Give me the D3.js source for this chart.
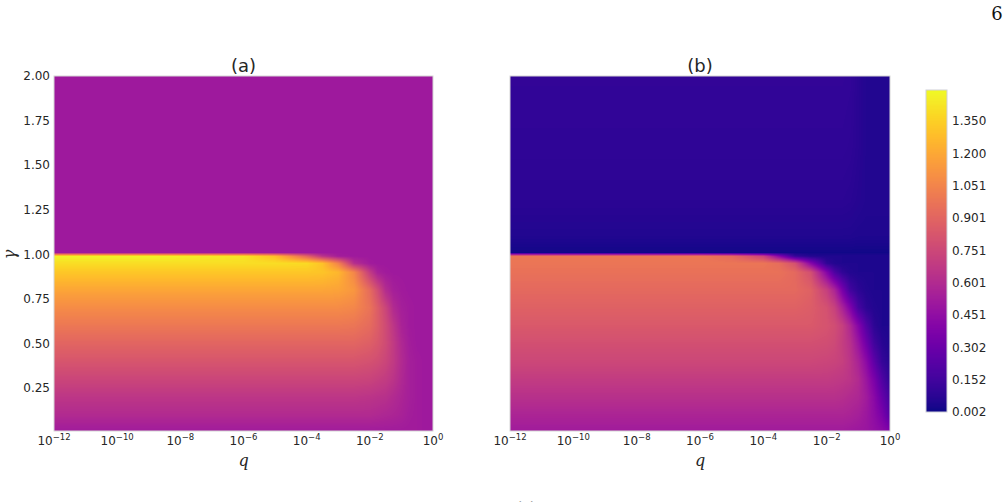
<!DOCTYPE html>
<html>
<head>
<meta charset="utf-8">
<script src="https://cdn.jsdelivr.net/npm/d3@7"></script>
<style>
  body { margin: 0; background: #fff; }
  svg { display: block; }
  text { font-family: "DejaVu Sans", sans-serif; fill: #262626; }
</style>
</head>
<body>
<svg id="chart" width="1008" height="502"></svg>
<script>
// log10(q) columns of the grid
const qExp = [-12, -9, -6, -5, -4, -3.5, -3, -2.5, -2, -1.75, -1.5, -1.25, -1, -0.75, -0.5, -0.25, 0];
// gamma rows of the grid
const gammaRows = [0.01, 0.1, 0.2, 0.3, 0.4, 0.5, 0.6, 0.7, 0.8, 0.9, 0.95, 0.99, 1.01, 1.1, 1.3, 1.6, 2.0];

// panel (a) values, one row per gamma
const valuesA = [
  [0.52, 0.52, 0.52, 0.52, 0.52, 0.52, 0.52, 0.52, 0.52, 0.52, 0.52, 0.52, 0.52, 0.52, 0.52, 0.51, 0.51],
  [0.60, 0.60, 0.60, 0.60, 0.60, 0.60, 0.60, 0.60, 0.60, 0.59, 0.58, 0.57, 0.555, 0.53, 0.52, 0.51, 0.51],
  [0.66, 0.66, 0.66, 0.66, 0.66, 0.66, 0.66, 0.66, 0.65, 0.64, 0.63, 0.60, 0.57, 0.54, 0.52, 0.51, 0.51],
  [0.74, 0.74, 0.74, 0.74, 0.74, 0.74, 0.74, 0.74, 0.73, 0.71, 0.69, 0.65, 0.59, 0.54, 0.52, 0.51, 0.51],
  [0.82, 0.82, 0.82, 0.82, 0.82, 0.82, 0.82, 0.82, 0.80, 0.78, 0.74, 0.68, 0.60, 0.54, 0.52, 0.51, 0.51],
  [0.90, 0.90, 0.90, 0.90, 0.90, 0.90, 0.90, 0.90, 0.87, 0.83, 0.77, 0.68, 0.59, 0.53, 0.51, 0.51, 0.51],
  [0.99, 0.99, 0.99, 0.99, 0.99, 0.99, 0.99, 0.98, 0.93, 0.86, 0.77, 0.66, 0.56, 0.52, 0.51, 0.51, 0.51],
  [1.08, 1.08, 1.08, 1.08, 1.08, 1.08, 1.08, 1.06, 0.97, 0.86, 0.74, 0.60, 0.54, 0.52, 0.51, 0.51, 0.51],
  [1.19, 1.19, 1.19, 1.19, 1.19, 1.19, 1.18, 1.13, 0.93, 0.78, 0.61, 0.54, 0.52, 0.51, 0.51, 0.51, 0.51],
  [1.32, 1.32, 1.32, 1.32, 1.32, 1.31, 1.26, 1.06, 0.69, 0.55, 0.52, 0.51, 0.51, 0.51, 0.51, 0.51, 0.51],
  [1.40, 1.40, 1.40, 1.40, 1.39, 1.30, 1.04, 0.62, 0.52, 0.51, 0.51, 0.51, 0.51, 0.51, 0.51, 0.51, 0.51],
  [1.48, 1.48, 1.43, 1.29, 0.90, 0.65, 0.53, 0.51, 0.51, 0.51, 0.51, 0.51, 0.51, 0.51, 0.51, 0.51, 0.51],
  [0.51, 0.51, 0.51, 0.51, 0.51, 0.51, 0.51, 0.51, 0.51, 0.51, 0.51, 0.51, 0.51, 0.51, 0.51, 0.51, 0.51],
  [0.51, 0.51, 0.51, 0.51, 0.51, 0.51, 0.51, 0.51, 0.51, 0.51, 0.51, 0.51, 0.51, 0.51, 0.51, 0.51, 0.51],
  [0.51, 0.51, 0.51, 0.51, 0.51, 0.51, 0.51, 0.51, 0.51, 0.51, 0.51, 0.51, 0.51, 0.51, 0.51, 0.51, 0.51],
  [0.51, 0.51, 0.51, 0.51, 0.51, 0.51, 0.51, 0.51, 0.51, 0.51, 0.51, 0.51, 0.51, 0.51, 0.51, 0.51, 0.51],
  [0.51, 0.51, 0.51, 0.51, 0.51, 0.51, 0.51, 0.51, 0.51, 0.51, 0.51, 0.51, 0.51, 0.51, 0.51, 0.51, 0.51]
];

// panel (b) values, one row per gamma
const valuesB = [
  [0.52, 0.52, 0.52, 0.52, 0.52, 0.52, 0.52, 0.52, 0.52, 0.52, 0.52, 0.51, 0.50, 0.49, 0.46, 0.43, 0.38],
  [0.57, 0.57, 0.57, 0.57, 0.57, 0.57, 0.57, 0.57, 0.57, 0.57, 0.57, 0.56, 0.54, 0.50, 0.44, 0.36, 0.22],
  [0.63, 0.63, 0.63, 0.63, 0.63, 0.63, 0.63, 0.63, 0.63, 0.63, 0.62, 0.60, 0.58, 0.52, 0.42, 0.28, 0.16],
  [0.69, 0.69, 0.69, 0.69, 0.69, 0.69, 0.69, 0.69, 0.69, 0.68, 0.67, 0.65, 0.60, 0.49, 0.36, 0.20, 0.09],
  [0.75, 0.75, 0.75, 0.75, 0.75, 0.75, 0.75, 0.75, 0.74, 0.73, 0.71, 0.65, 0.56, 0.43, 0.25, 0.11, 0.06],
  [0.79, 0.79, 0.79, 0.79, 0.79, 0.79, 0.79, 0.79, 0.78, 0.76, 0.70, 0.63, 0.49, 0.32, 0.15, 0.07, 0.04],
  [0.84, 0.84, 0.84, 0.84, 0.84, 0.84, 0.84, 0.84, 0.81, 0.78, 0.71, 0.58, 0.40, 0.21, 0.08, 0.04, 0.04],
  [0.88, 0.88, 0.88, 0.88, 0.88, 0.88, 0.88, 0.86, 0.80, 0.72, 0.56, 0.38, 0.17, 0.08, 0.05, 0.04, 0.04],
  [0.92, 0.92, 0.92, 0.92, 0.92, 0.92, 0.92, 0.88, 0.71, 0.57, 0.35, 0.15, 0.08, 0.05, 0.04, 0.04, 0.04],
  [0.96, 0.96, 0.96, 0.96, 0.96, 0.96, 0.92, 0.79, 0.40, 0.19, 0.09, 0.05, 0.04, 0.04, 0.04, 0.04, 0.04],
  [0.98, 0.98, 0.98, 0.98, 0.98, 0.94, 0.80, 0.41, 0.09, 0.05, 0.04, 0.04, 0.04, 0.04, 0.04, 0.04, 0.04],
  [0.99, 0.99, 0.99, 0.93, 0.73, 0.41, 0.11, 0.05, 0.04, 0.04, 0.04, 0.04, 0.04, 0.04, 0.04, 0.04, 0.04],
  [0.01, 0.01, 0.01, 0.01, 0.01, 0.01, 0.01, 0.01, 0.01, 0.01, 0.01, 0.01, 0.01, 0.01, 0.01, 0.01, 0.01],
  [0.045, 0.045, 0.045, 0.045, 0.045, 0.045, 0.045, 0.045, 0.045, 0.045, 0.045, 0.045, 0.04, 0.04, 0.04, 0.04, 0.04],
  [0.075, 0.075, 0.075, 0.075, 0.075, 0.075, 0.075, 0.075, 0.075, 0.075, 0.075, 0.07, 0.06, 0.05, 0.05, 0.05, 0.05],
  [0.09, 0.09, 0.09, 0.09, 0.09, 0.09, 0.09, 0.09, 0.09, 0.09, 0.09, 0.085, 0.07, 0.05, 0.05, 0.05, 0.05],
  [0.10, 0.10, 0.10, 0.10, 0.10, 0.10, 0.10, 0.10, 0.10, 0.10, 0.10, 0.095, 0.07, 0.05, 0.05, 0.05, 0.05]
];

const yTicks = [0.25, 0.5, 0.75, 1.0, 1.25, 1.5, 1.75, 2.0];
const xTickExp = [-12, -10, -8, -6, -4, -2, 0];
const cbarTicks = [0.002, 0.152, 0.302, 0.451, 0.601, 0.751, 0.901, 1.051, 1.200, 1.350];
const colorDomain = [0.002, 1.494];
const panelTitles = ["(a)", "(b)"];

const svg = d3.select("#chart");

const color = d3.scaleSequential(d3.interpolatePlasma).domain(colorDomain);

// lookup table so we don't parse a colour string for every pixel
const lut = d3.range(256).map(i => d3.rgb(d3.interpolatePlasma(i / 255)));

const y = d3.scaleLinear().domain([0.01, 2.0]).range([431, 76]);

const panels = [
  { x: d3.scaleLog().domain([1e-12, 1]).range([54, 433]), values: valuesA, title: panelTitles[0], yAxis: true },
  { x: d3.scaleLog().domain([1e-12, 1]).range([510, 890]), values: valuesB, title: panelTitles[1], yAxis: false }
];

function bracket(arr, v) {
  if (v <= arr[0]) return [0, 0, 0];
  const n = arr.length - 1;
  if (v >= arr[n]) return [n, n, 0];
  let i = 0;
  while (arr[i + 1] < v) i++;
  return [i, i + 1, (v - arr[i]) / (arr[i + 1] - arr[i])];
}

function sample(values, lq, gm) {
  const [c0, c1, tx] = bracket(qExp, lq);
  const [r0, r1, ty] = bracket(gammaRows, gm);
  const a = values[r0][c0] * (1 - tx) + values[r0][c1] * tx;
  const b = values[r1][c0] * (1 - tx) + values[r1][c1] * tx;
  return a * (1 - ty) + b * ty;
}

function drawHeat(g, values, x) {
  const [x0, x1] = x.range();
  const [yb, yt] = y.range();
  const w = Math.round(x1 - x0), h = Math.round(yb - yt);
  const cv = document.createElement("canvas");
  cv.width = w; cv.height = h;
  const ctx = cv.getContext("2d");
  const img = ctx.createImageData(w, h);
  const lqs = d3.range(w).map(i => Math.log10(x.invert(x0 + i + 0.5)));
  for (let j = 0; j < h; j++) {
    const gm = y.invert(yt + j + 0.5);
    for (let i = 0; i < w; i++) {
      const v = sample(values, lqs[i], gm);
      const t = Math.max(0, Math.min(1, (v - colorDomain[0]) / (colorDomain[1] - colorDomain[0])));
      const c = lut[Math.round(t * 255)];
      const k = (j * w + i) * 4;
      img.data[k] = c.r; img.data[k + 1] = c.g; img.data[k + 2] = c.b; img.data[k + 3] = 255;
    }
  }
  ctx.putImageData(img, 0, 0);
  g.append("image")
    .attr("x", x0).attr("y", yt)
    .attr("width", w).attr("height", h)
    .attr("preserveAspectRatio", "none")
    .attr("href", cv.toDataURL());
  g.append("rect")
    .attr("x", x0).attr("y", yt)
    .attr("width", w).attr("height", h)
    .attr("fill", "none")
    .attr("stroke", "#d6d6d6")
    .attr("stroke-width", 1);
}

panels.forEach(p => {
  const g = svg.append("g");
  drawHeat(g, p.values, p.x);

  const [x0, x1] = p.x.range();
  g.append("text")
    .attr("x", (x0 + x1) / 2)
    .attr("y", 72)
    .attr("text-anchor", "middle")
    .attr("font-size", 18)
    .text(p.title);

  // x tick labels as 10^n
  const xt = g.selectAll("text.xt")
    .data(xTickExp)
    .join("text")
    .attr("class", "xt")
    .attr("x", d => p.x(Math.pow(10, d)))
    .attr("y", 445)
    .attr("text-anchor", "middle")
    .attr("font-size", 12);
  xt.append("tspan").text("10");
  xt.append("tspan")
    .attr("font-size", 8.5)
    .attr("dy", -5.5)
    .text(d => (d < 0 ? "\u2212" + (-d) : "" + d));

  g.append("text")
    .attr("x", (x0 + x1) / 2)
    .attr("y", 466)
    .attr("text-anchor", "middle")
    .attr("font-size", 16)
    .attr("font-style", "italic")
    .style("font-family", "'DejaVu Serif', serif")
    .text("q");

  if (p.yAxis) {
    g.selectAll("text.yt")
      .data(yTicks)
      .join("text")
      .attr("class", "yt")
      .attr("x", 50)
      .attr("y", d => y(d) + 4.3)
      .attr("text-anchor", "end")
      .attr("font-size", 12)
      .text(d3.format(".2f"));

    g.append("text")
      .attr("transform", `translate(15, ${y(1.0)}) rotate(-90)`)
      .attr("text-anchor", "middle")
      .attr("font-size", 16)
      .attr("font-style", "italic")
      .style("font-family", "'DejaVu Serif', serif")
      .text("\u03b3");
  }
});

// Colour bar
const cy = d3.scaleLinear().domain(colorDomain).range([412, 90]);
const cbX = 926, cbW = 21;
{
  const h = 412 - 90;
  const cv = document.createElement("canvas");
  cv.width = 1; cv.height = h;
  const ctx = cv.getContext("2d");
  for (let j = 0; j < h; j++) {
    ctx.fillStyle = color(cy.invert(90 + j + 0.5));
    ctx.fillRect(0, j, 1, 1);
  }
  svg.append("image")
    .attr("x", cbX).attr("y", 90)
    .attr("width", cbW).attr("height", h)
    .attr("preserveAspectRatio", "none")
    .style("image-rendering", "pixelated")
    .attr("href", cv.toDataURL());
  svg.append("rect")
    .attr("x", cbX).attr("y", 90)
    .attr("width", cbW).attr("height", h)
    .attr("fill", "none")
    .attr("stroke", "#d0d0d8")
    .attr("stroke-width", 1);

  svg.selectAll("text.ct")
    .data(cbarTicks)
    .join("text")
    .attr("class", "ct")
    .attr("x", 952)
    .attr("y", d => cy(d) + 4.3)
    .attr("font-size", 12)
    .text(d3.format(".3f"));
}

// page number and the cut-off caption below
svg.append("text")
  .attr("x", 997)
  .attr("y", 20)
  .attr("text-anchor", "middle")
  .attr("font-size", 18)
  .style("font-family", "'DejaVu Serif', serif")
  .style("fill", "#111")
  .text("6");

svg.append("text")
  .attr("x", 526)
  .attr("y", 512)
  .attr("text-anchor", "middle")
  .attr("font-size", 14)
  .style("fill", "#999")
  .text("(c)");
</script>
</body>
</html>
